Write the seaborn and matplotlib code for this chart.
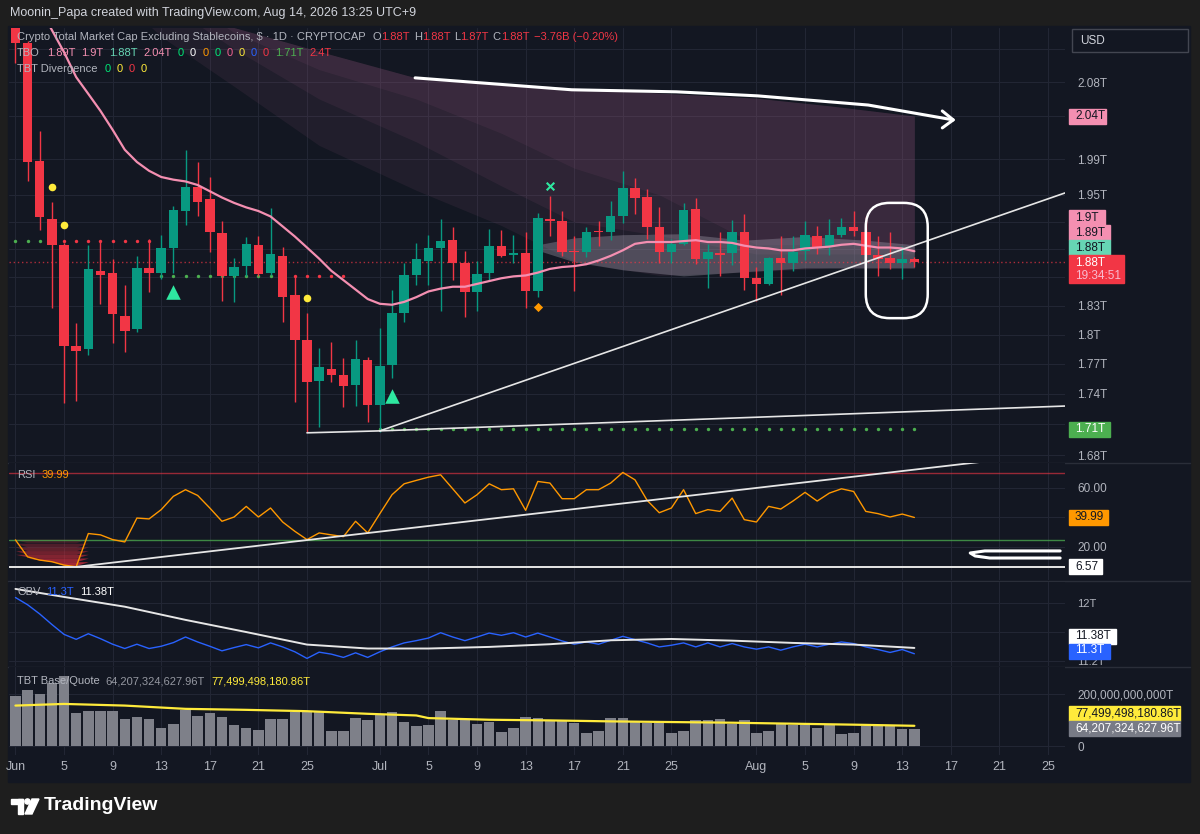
import numpy as np
import pandas as pd
import matplotlib
matplotlib.use("Agg")
import matplotlib.pyplot as plt
import matplotlib.dates as mdates
import matplotlib.transforms as mtrans
from matplotlib.patches import Rectangle, FancyBboxPatch, Circle, Polygon
from matplotlib.ticker import FixedLocator, FixedFormatter, NullLocator, NullFormatter
import seaborn as sns

# daily candles Jun 1 - Aug 14 2026, market cap in T
opens = [2.156, 2.127, 1.988, 1.923, 1.895, 1.788, 1.785, 1.867, 1.865, 1.819,
         1.806, 1.870, 1.865, 1.892, 1.932, 1.959, 1.945, 1.908, 1.861, 1.872,
         1.895, 1.865, 1.883, 1.841, 1.794, 1.753, 1.765, 1.759, 1.749, 1.774,
         1.729, 1.769, 1.822, 1.863, 1.878, 1.892, 1.900, 1.875, 1.844, 1.865,
         1.894, 1.884, 1.886, 1.846, 1.923, 1.921, 1.888, 1.887, 1.910, 1.909,
         1.926, 1.958, 1.948, 1.914, 1.887, 1.896, 1.934, 1.880, 1.886, 1.886,
         1.909, 1.859, 1.853, 1.881, 1.875, 1.888, 1.904, 1.893, 1.906, 1.914,
         1.909, 1.884, 1.881, 1.875, 1.880]
highs = [2.168, 2.130, 2.023, 1.942, 1.897, 1.812, 1.895, 1.898, 1.880, 1.852,
         1.883, 1.901, 1.906, 1.938, 2.001, 1.987, 1.970, 1.921, 1.881, 1.903,
         1.905, 1.935, 1.893, 1.861, 1.822, 1.786, 1.792, 1.776, 1.794, 1.777,
         1.807, 1.847, 1.875, 1.897, 1.906, 1.923, 1.914, 1.888, 1.877, 1.912,
         1.911, 1.906, 1.909, 1.930, 1.949, 1.932, 1.905, 1.914, 1.921, 1.943,
         1.977, 1.969, 1.957, 1.936, 1.901, 1.941, 1.947, 1.896, 1.909, 1.922,
         1.929, 1.871, 1.882, 1.904, 1.904, 1.921, 1.916, 1.923, 1.924, 1.932,
         1.927, 1.905, 1.909, 1.894, 1.882]
lows = [2.103, 1.965, 1.911, 1.828, 1.731, 1.733, 1.779, 1.832, 1.791, 1.782,
        1.803, 1.844, 1.858, 1.865, 1.917, 1.926, 1.887, 1.835, 1.834, 1.861,
        1.861, 1.863, 1.813, 1.732, 1.702, 1.707, 1.752, 1.727, 1.728, 1.712,
        1.702, 1.756, 1.813, 1.852, 1.852, 1.824, 1.857, 1.818, 1.824, 1.856,
        1.882, 1.875, 1.828, 1.839, 1.905, 1.883, 1.846, 1.882, 1.894, 1.900,
        1.919, 1.929, 1.901, 1.875, 1.875, 1.895, 1.874, 1.849, 1.861, 1.873,
        1.847, 1.835, 1.852, 1.841, 1.867, 1.879, 1.885, 1.884, 1.903, 1.904,
        1.881, 1.861, 1.869, 1.858, 1.871]
closes = [2.127, 1.987, 1.925, 1.895, 1.788, 1.783, 1.869, 1.863, 1.821, 1.804,
          1.870, 1.865, 1.892, 1.933, 1.959, 1.942, 1.909, 1.861, 1.871, 1.896,
          1.864, 1.885, 1.839, 1.794, 1.752, 1.767, 1.759, 1.748, 1.775, 1.729,
          1.768, 1.822, 1.863, 1.880, 1.892, 1.899, 1.875, 1.844, 1.864, 1.894,
          1.883, 1.886, 1.846, 1.924, 1.921, 1.887, 1.887, 1.909, 1.909, 1.927,
          1.958, 1.947, 1.914, 1.887, 1.896, 1.933, 1.880, 1.887, 1.884, 1.909,
          1.859, 1.853, 1.881, 1.875, 1.887, 1.906, 1.892, 1.906, 1.914, 1.910,
          1.884, 1.880, 1.875, 1.880, 1.876]

# pink TBO line, starts on the 3rd day
ma_line = [2.170, 2.143, 2.116, 2.086, 2.066, 2.046, 2.024, 2.001, 1.987, 1.977,
           1.970, 1.967, 1.965, 1.961, 1.954, 1.947, 1.941, 1.936, 1.932, 1.926,
           1.915, 1.904, 1.892, 1.880, 1.867, 1.857, 1.847, 1.837, 1.832, 1.831,
           1.834, 1.839, 1.845, 1.848, 1.850, 1.850, 1.853, 1.856, 1.859, 1.861,
           1.862, 1.865, 1.869, 1.871, 1.872, 1.874, 1.878, 1.883, 1.889, 1.896,
           1.898, 1.898, 1.898, 1.899, 1.900, 1.898, 1.898, 1.897, 1.894, 1.892,
           1.891, 1.889, 1.889, 1.891, 1.892, 1.893, 1.895, 1.896, 1.894, 1.892,
           1.892, 1.891, 1.888]

# cloud edges (day index from Jun 1)
cloud_idx = [0, 6, 12, 18, 25, 33, 40, 46, 53, 61, 67, 74]
cloud_top = [2.40, 2.30, 2.21, 2.146, 2.117, 2.085, 2.079, 2.073, 2.067, 2.061, 2.052, 2.040]
cloud_mid2 = [2.38, 2.29, 2.20, 2.14, 2.095, 2.06, 2.02, 1.98, 1.95, 1.895, 1.895, 1.895]
cloud_mid1 = [2.35, 2.26, 2.18, 2.12, 2.06, 2.01, 1.96, 1.92, 1.905, 1.885, 1.885, 1.885]
cloud_low = [2.30, 2.22, 2.135, 2.075, 2.006, 1.955, 1.916, 1.877, 1.862, 1.866, 1.870, 1.870]
band_idx = [43, 46, 50, 55, 60, 65, 70, 74]
band_hi = [1.895, 1.9025, 1.906, 1.907, 1.900, 1.904, 1.900, 1.895]
band_lo = [1.889, 1.8765, 1.868, 1.8615, 1.866, 1.870, 1.870, 1.870]

# TBO dots
dots_green_a = [0, 1, 2, 3]
dots_red_a = [4, 5, 6, 7, 8, 9, 10, 11]
level_a = 1.899
dots_green_b = [12, 13, 14, 15, 16, 17, 18, 19, 20, 21]
dots_red_b = [22, 23, 24, 25, 26, 27]
level_b = 1.8616
dots_green_c = list(range(30, 75))
level_c = 1.705

# signal markers
yellow_idx = [3, 4, 24]
yellow_val = [1.959, 1.917, 1.838]
tri_idx = [13, 31]
tri_val = [1.8446, 1.738]
cross_idx = [44]
cross_val = [1.960]
diamond_idx = [43]
diamond_val = [1.8286]

rsi = [24.8, 13.3, 11.1, 10.0, 7.7, 6.6, 29.1, 28.2, 25.0, 23.4,
       39.6, 39.0, 45.3, 54.3, 58.8, 54.9, 46.4, 37.4, 40.3, 47.5,
       40.3, 46.4, 36.9, 30.6, 25.0, 29.5, 28.2, 27.0, 37.4, 29.5,
       42.6, 55.4, 62.8, 65.1, 67.3, 68.9, 59.4, 49.8, 55.4, 62.8,
       58.8, 59.4, 44.8, 64.4, 63.3, 52.7, 52.7, 58.8, 58.8, 63.3,
       70.5, 65.5, 51.6, 43.2, 46.4, 58.8, 42.6, 45.3, 44.1, 53.1,
       38.5, 36.9, 47.5, 45.7, 51.1, 57.0, 51.1, 56.5, 59.4, 57.6,
       44.1, 42.6, 40.3, 42.3, 39.99]

obv = [12.072, 11.973, 11.846, 11.702, 11.566, 11.498, 11.575, 11.507, 11.431, 11.372,
       11.431, 11.372, 11.403, 11.453, 11.530, 11.462, 11.403, 11.340, 11.385, 11.426,
       11.381, 11.449, 11.394, 11.327, 11.236, 11.322, 11.295, 11.250, 11.313, 11.250,
       11.327, 11.394, 11.449, 11.480, 11.516, 11.589, 11.530, 11.480, 11.530, 11.584,
       11.553, 11.589, 11.530, 11.584, 11.530, 11.476, 11.431, 11.462, 11.431, 11.485,
       11.539, 11.494, 11.449, 11.394, 11.417, 11.449, 11.394, 11.449, 11.394, 11.440,
       11.394, 11.363, 11.394, 11.349, 11.394, 11.431, 11.394, 11.431, 11.462, 11.440,
       11.394, 11.358, 11.318, 11.358, 11.300]
obv_ma_idx = [0, 4, 9, 14, 19, 24, 29, 34, 39, 44, 49, 54, 59, 64, 69, 74]
obv_ma = [12.19, 12.08, 11.946, 11.765, 11.598, 11.426, 11.372, 11.372, 11.394, 11.431,
          11.485, 11.503, 11.480, 11.449, 11.426, 11.38]

# TBT base/quote, in 1e9 T
volume = [192.5, 213.9, 198.8, 242.8, 268.0, 127.1, 132.1, 132.1, 133.3, 104.4,
          110.7, 101.9, 69.2, 83.0, 138.4, 114.5, 124.5, 112.0, 81.8, 69.2,
          62.9, 101.9, 101.9, 129.6, 129.6, 129.6, 56.6, 59.1, 105.7, 98.1,
          118.3, 130.8, 93.1, 75.5, 79.3, 133.3, 98.1, 98.1, 85.5, 91.8,
          55.4, 67.9, 112.0, 108.2, 98.1, 98.1, 89.3, 51.6, 59.1, 108.2,
          106.9, 95.6, 89.3, 89.3, 51.6, 57.9, 98.1, 98.1, 101.9, 85.5,
          98.1, 50.3, 57.9, 83.0, 79.3, 81.8, 70.4, 79.3, 45.3, 49.1,
          76.7, 76.7, 76.7, 66.7, 64.21]
vol_ma_idx = [0, 4, 9, 14, 19, 24, 29, 33, 34, 39, 44, 49, 54, 59, 64, 69, 74]
vol_ma = [154.7, 161.0, 154.7, 142.2, 138.4, 133.3, 123.3, 117.0, 106.9, 100.6,
          98.1, 94.4, 91.8, 89.3, 85.5, 81.8, 77.5]

tick_dates = ["2026-06-01", "2026-06-05", "2026-06-09", "2026-06-13", "2026-06-17", "2026-06-21",
              "2026-06-25", "2026-07-01", "2026-07-05", "2026-07-09", "2026-07-13", "2026-07-17",
              "2026-07-21", "2026-07-25", "2026-08-01", "2026-08-05", "2026-08-09", "2026-08-13",
              "2026-08-17", "2026-08-21", "2026-08-25"]
tick_labels = ["Jun", "5", "9", "13", "17", "21", "25", "Jul", "5", "9", "13", "17",
               "21", "25", "Aug", "5", "9", "13", "17", "21", "25"]

# price scale; labels hidden under the value tags are left blank
main_ticks = [1.68, 1.71, 1.74, 1.77, 1.80, 1.83, 1.86, 1.89, 1.92, 1.95, 1.99, 2.04, 2.08, 2.12]
main_labels = ["1.68T", "", "1.74T", "1.77T", "1.8T", "1.83T", "", "",
               "", "1.95T", "1.99T", "", "2.08T", ""]

BG = "#131722"
FRAME = "#1e1e1e"
GRID = "#222634"
TXT = "#b2b5be"
UP = "#089981"
DOWN = "#f23645"
PINK = "#f48fb1"
WHITE = "#e6e6e6"

sns.set_theme(style="dark", rc={"axes.facecolor": BG, "figure.facecolor": FRAME,
                                "text.color": TXT, "xtick.color": TXT, "ytick.color": TXT})
plt.rcParams["font.family"] = ["Liberation Sans", "DejaVu Sans"]

W, H = 1200, 834
fig = plt.figure(figsize=(W / 100, H / 100), dpi=100, facecolor=FRAME)


def rect(left, top, right, bottom):
    return [left / W, 1 - bottom / H, (right - left) / W, (bottom - top) / H]


# frame / decoration layer in pixel coords
deco = fig.add_axes([0, 0, 1, 1], zorder=-5)
deco.set_xlim(0, W)
deco.set_ylim(H, 0)
deco.axis("off")
deco.add_patch(Rectangle((8, 26), 1182, 756, color=BG))
for yy in [462.5, 581, 666.5]:
    deco.plot([8, 1190], [yy, yy], color="#2a2e39", lw=1)
deco.text(10, 13, "Moonin_Papa created with TradingView.com, Aug 14, 2026 13:25 UTC+9",
          color="#d1d4dc", fontsize=9, va="center")
deco.add_patch(Rectangle((1072, 29), 116, 23, fc=BG, ec="#434651", lw=1))
deco.text(1080, 41, "USD", color="#d1d4dc", fontsize=8.5, va="center")
# TradingView logo
deco.add_patch(Rectangle((11, 799), 12, 5, color="white"))
deco.add_patch(Rectangle((18, 799), 5, 15, color="white"))
deco.add_patch(Circle((27.5, 801.5), 2.6, color="white"))
deco.add_patch(Polygon([(32, 799), (39, 799), (32, 814), (25, 814)], color="white"))
deco.text(44, 806, "TradingView", color="white", fontsize=14, fontweight="bold", va="center")

ax = fig.add_axes(rect(9, 28, 1065, 462))
ax_rsi = fig.add_axes(rect(9, 463, 1065, 580), sharex=ax)
ax_obv = fig.add_axes(rect(9, 582, 1065, 666), sharex=ax)
ax_vol = fig.add_axes(rect(9, 667, 1065, 755), sharex=ax)

# overlay for the value tags on the price scale
top = fig.add_axes([0, 0, 1, 1], zorder=10)
top.set_xlim(0, W)
top.set_ylim(H, 0)
top.axis("off")

dates = pd.date_range("2026-06-01", periods=len(closes), freq="D")
x = mdates.date2num(dates)
x0 = x[0]
tick_x = mdates.date2num(pd.to_datetime(tick_dates))


def day(idx):
    return x0 + np.asarray(idx, dtype=float)


for a in [ax, ax_rsi, ax_obv, ax_vol]:
    a.set_facecolor(BG)
    for s in a.spines.values():
        s.set_visible(False)
    a.yaxis.tick_right()
    a.tick_params(axis="y", length=0, pad=9, labelsize=8.5, colors=TXT)
    a.tick_params(axis="x", length=0, labelbottom=False)
    a.grid(True, color=GRID, lw=0.8)
    a.set_axisbelow(True)

ax.set_xlim(x0 - 0.53, x0 + 86.4)
ax.set_xticks(tick_x)
ax_vol.set_xticklabels(tick_labels)
ax_vol.tick_params(axis="x", labelbottom=True, labelsize=9, pad=4, colors=TXT)

# ---- main pane ----
ax.set_yscale("log")
ax.set_ylim(1.6733, 2.1455)
ax.yaxis.set_major_locator(FixedLocator(main_ticks))
ax.yaxis.set_major_formatter(FixedFormatter(main_labels))
ax.yaxis.set_minor_locator(NullLocator())
ax.yaxis.set_minor_formatter(NullFormatter())

cloud_c = "#9b5a82"
for upper in [cloud_low, cloud_mid1, cloud_mid2]:
    ax.fill_between(day(cloud_idx), upper, cloud_top, color=cloud_c, alpha=0.11, lw=0, zorder=1)
ax.fill_between(day(band_idx), band_lo, band_hi, color="#a8a3b3", alpha=0.35, lw=0, zorder=1)

ax.axhline(closes[-1], color=DOWN, lw=1, ls=(0, (1, 2)), alpha=0.7, zorder=2)

ax.scatter(day(dots_green_a), [level_a] * len(dots_green_a), s=6, color="#4caf50", zorder=2, lw=0)
ax.scatter(day(dots_red_a), [level_a] * len(dots_red_a), s=6, color=DOWN, zorder=2, lw=0)
ax.scatter(day(dots_green_b), [level_b] * len(dots_green_b), s=6, color="#4caf50", zorder=2, lw=0)
ax.scatter(day(dots_red_b), [level_b] * len(dots_red_b), s=6, color=DOWN, zorder=2, lw=0)
ax.scatter(day(dots_green_c), [level_c] * len(dots_green_c), s=6, color="#4caf50", zorder=2, lw=0)

o, h, l, c = map(np.array, (opens, highs, lows, closes))
col = np.where(c >= o, UP, DOWN)
ax.vlines(x, l, h, colors=col, lw=1, zorder=3)
ax.bar(x, np.maximum(np.abs(c - o), 0.0015), bottom=np.minimum(o, c), width=0.78,
       color=col, lw=0, zorder=4)

sns.lineplot(x=x[2:], y=ma_line, ax=ax, color=PINK, lw=1.6, zorder=5)

ax.scatter(day(yellow_idx), yellow_val, s=30, color="#ffeb3b", marker="o", zorder=6, lw=0)
ax.scatter(day(tri_idx), tri_val, s=110, color="#2ee8a0", marker="^", zorder=6, lw=0)
ax.scatter(day(cross_idx), cross_val, s=30, color="#2ee8a0", marker="x", zorder=6, lw=1.5)
ax.scatter(day(diamond_idx), diamond_val, s=22, color="#ff9800", marker="D", zorder=6, lw=0)

# drawings
ax.plot(day([24, 30]), [1.7015, 1.7034], color=WHITE, lw=1.2, zorder=7)
ax.plot(day([30, 86.4]), [1.7034, 1.7278], color=WHITE, lw=1.2, zorder=7)
ax.plot(day([30, 86.4]), [1.7034, 1.9521], color=WHITE, lw=1.2, zorder=7)
ax.plot(day([32.9, 45.8, 54.4, 61.1, 70.2, 77.2]),
        [2.0851, 2.0709, 2.0685, 2.0637, 2.0529, 2.0355], color="white", lw=2.2,
        solid_capstyle="round", zorder=8)
ax.plot(day([76.3, 77.2, 76.3]), [2.0459, 2.0355, 2.0262], color="white", lw=2.2,
        solid_capstyle="round", zorder=8)

# ---- RSI pane ----
ax_rsi.set_ylim(-2.4, 76.9)
ax_rsi.yaxis.set_major_locator(FixedLocator([20, 40, 60]))
ax_rsi.yaxis.set_major_formatter(FixedFormatter(["20.00", "", "60.00"]))
rsi_a = np.array(rsi)
for k in range(10):
    hi_l = 25 - 2.5 * k
    lo_l = hi_l - 2.5
    ax_rsi.fill_between(x, np.clip(rsi_a, lo_l, hi_l), hi_l, where=rsi_a < hi_l,
                        interpolate=True, color="#e8303f", alpha=min(0.2 + 0.08 * k, 0.9),
                        lw=0, zorder=1)
ax_rsi.axhline(70, color="#f23645", alpha=0.6, lw=1, zorder=2)
ax_rsi.axhline(25, color="#4caf50", alpha=0.75, lw=1, zorder=2)
sns.lineplot(x=x, y=rsi, ax=ax_rsi, color="#ff9800", lw=1, zorder=3)
ax_rsi.axhline(6.57, color=WHITE, lw=1.4, zorder=4)
ax_rsi.plot(day([5.06, 80.9]), [6.57, 79.0], color=WHITE, lw=1.3, zorder=4)
ax_rsi.plot(day([86.0, 79.8, 78.6, 79.0, 80.2, 86.0]), [17.3, 17.3, 15.9, 13.9, 12.5, 12.5],
            color="white", lw=2.2, solid_capstyle="round", zorder=5)

# ---- OBV pane ----
ax_obv.set_ylim(11.132, 12.285)
ax_obv.yaxis.set_major_locator(FixedLocator([11.2, 11.6, 12.0]))
ax_obv.yaxis.set_major_formatter(FixedFormatter(["11.2T", "", "12T"]))
ax_obv.tick_params(axis="y", labelsize=8)
sns.lineplot(x=x, y=obv, ax=ax_obv, color="#2962ff", lw=1, zorder=3)
sns.lineplot(x=day(obv_ma_idx), y=obv_ma, ax=ax_obv, color=WHITE, lw=1.4, zorder=4)

# ---- TBT base/quote pane ----
ax_vol.set_ylim(-34, 302)
ax_vol.yaxis.set_major_locator(FixedLocator([0, 200]))
ax_vol.yaxis.set_major_formatter(FixedFormatter(["0", "200,000,000,000T"]))
ax_vol.bar(x, volume, width=0.86, color="#7e8089", lw=0, zorder=2)
sns.lineplot(x=day(vol_ma_idx), y=vol_ma, ax=ax_vol, color="#ffeb3b", lw=1.6, zorder=3)

for a in [ax, ax_rsi, ax_obv, ax_vol]:
    a.set_xlabel("")
    a.set_ylabel("")


# value tags on the price scale
def tag(a, yv, s, fc, tc, w, hgt=15, dy=0):
    py = H - a.transData.transform((x0, yv))[1]
    top.add_patch(Rectangle((1069, py - hgt / 2), w, hgt, color=fc, zorder=3))
    top.text(1075, py + dy, s, color=tc, fontsize=8.5, va="center", ha="left", zorder=4)
    return py


tag(ax, 2.04, "2.04T", PINK, BG, 37)
tag(ax, 1.9244, "1.9T", PINK, BG, 36)
tag(ax, 1.908, "1.89T", PINK, BG, 41)
tag(ax, 1.8916, "1.88T", "#66d6b4", BG, 41)
py_red = H - ax.transData.transform((x0, 1.8686))[1]
top.add_patch(Rectangle((1069, py_red - 14), 55, 28, color=DOWN, zorder=3))
top.text(1075, py_red - 6.5, "1.88T", color="white", fontsize=8.5, va="center", zorder=4)
top.text(1075, py_red + 6.5, "19:34:51", color="#f8bbd0", fontsize=8.5, va="center", zorder=4)
tag(ax, 1.705, "1.71T", "#4caf50", "white", 41)
tag(ax_rsi, 39.99, "39.99", "#ff9800", BG, 39)
tag(ax_rsi, 6.57, "6.57", "white", BG, 33)
tag(ax_obv, 11.535, "11.38T", "white", BG, 47, dy=-1)
tag(ax_obv, 11.33, "11.3T", "#2962ff", "white", 41, dy=-1.5)
tag(ax_vol, 124.5, "77,499,498,180.86T", "#ffeb3b", BG, 111)
tag(ax_vol, 67.9, "64,207,324,627.96T", "#787b86", "white", 111)

# hand-drawn ring around the last candles
p1 = ax.transData.transform((x0 + 70.0, 1.941))
p2 = ax.transData.transform((x0 + 75.1, 1.817))
ring = FancyBboxPatch((p1[0], p2[1]), p2[0] - p1[0], p1[1] - p2[1],
                      boxstyle="round,pad=0,rounding_size=24", fc="none", ec="white", lw=1.8,
                      transform=mtrans.IdentityTransform(), zorder=9)
ax.add_patch(ring)

# legends
renderer = fig.canvas.get_renderer()


def seg_text(px, py, parts, size=8):
    for s, colr, gap in parts:
        t = fig.text(px / W, 1 - py / H, s, color=colr, fontsize=size, va="center", ha="left")
        px += t.get_window_extent(renderer=renderer).width + gap


G = TXT
seg_text(17, 37, [("Crypto Total Market Cap Excluding Stablecoins, $ · 1D · CRYPTOCAP", G, 7),
                  ("O", G, 0), ("1.88T", DOWN, 4), ("H", G, 0), ("1.88T", DOWN, 4),
                  ("L", G, 0), ("1.87T", DOWN, 4), ("C", G, 0), ("1.88T", DOWN, 5),
                  ("\u22123.76B (\u22120.20%)", DOWN, 0)])
seg_text(17, 53, [("TBO", G, 7), ("1.89T", PINK, 6), ("1.9T", PINK, 6), ("1.88T", "#66d6b4", 6),
                  ("2.04T", PINK, 6), ("0", "#00e676", 6), ("0", "white", 6), ("0", "#ff9800", 6),
                  ("0", "#00e676", 6), ("0", "#f06292", 6), ("0", "#ffeb3b", 6), ("0", "#2962ff", 6),
                  ("0", DOWN, 6), ("1.71T", "#4caf50", 6), ("2.4T", DOWN, 0)])
seg_text(17, 69, [("TBT Divergence", G, 7), ("0", "#00e676", 6), ("0", "#ffeb3b", 6),
                  ("0", DOWN, 6), ("0", "#ffeb3b", 0)])
seg_text(17, 475, [("RSI", G, 6), ("39.99", "#ff9800", 0)])
seg_text(17, 592, [("OBV", G, 6), ("11.3T", "#2962ff", 6), ("11.38T", "white", 0)])
seg_text(17, 681, [("TBT Base/Quote", G, 6), ("64,207,324,627.96T", "#9598a1", 6),
                   ("77,499,498,180.86T", "#ffeb3b", 0)])

fig.savefig("out.png", dpi=100, facecolor=FRAME)
